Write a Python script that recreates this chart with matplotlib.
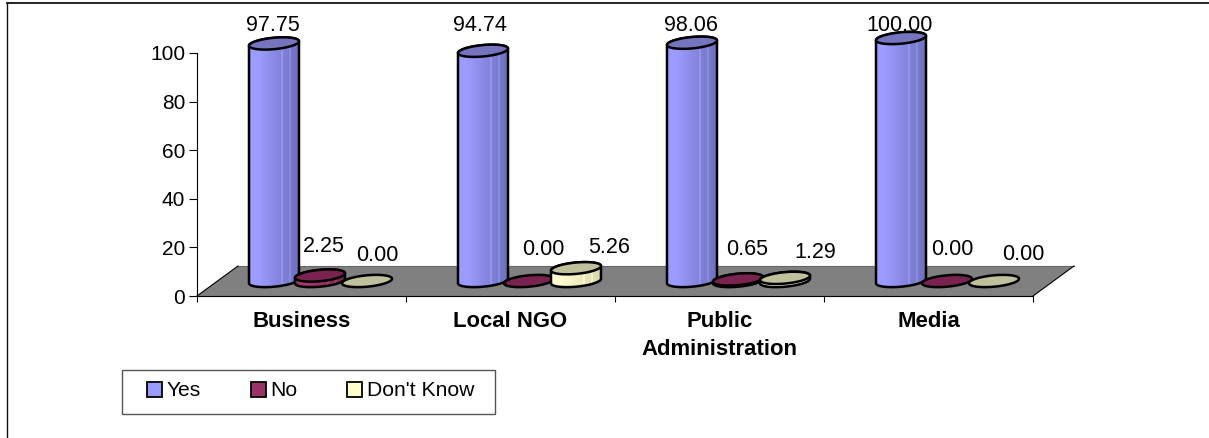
import matplotlib
matplotlib.use("Agg")
import matplotlib.pyplot as plt
import numpy as np
from matplotlib.colors import to_rgb
from matplotlib.lines import Line2D
from matplotlib.patches import Patch, Polygon, Rectangle

plt.rcParams["font.family"] = ["Liberation Sans", "DejaVu Sans"]

categories = ["Business", "Local NGO", "Public\nAdministration", "Media"]
series_names = ["Yes", "No", "Don't Know"]
yes_values = [97.75, 94.74, 98.06, 100.00]
no_values = [2.25, 0.00, 0.65, 0.00]
dont_know_values = [0.00, 5.26, 1.29, 0.00]
y_ticks = [0, 20, 40, 60, 80, 100]

# where each value label sits: x shift in pixels from its cylinder, y on the value axis
label_shift = [[-1, -3, -1, -1], [4, 14, 9, 5], [10, 33, 30, 29]]
label_y = [[111.5, 111.5, 111.5, 111.5], [20.2, 19.0, 19.3, 19.3], [16.5, 19.8, 18.1, 16.9]]

W, H = 1209, 438
AX_LEFT, AX_RIGHT, AX_TOP, AX_BOTTOM = 197, 1033, 53, 296
PX_X = 4 / (AX_RIGHT - AX_LEFT)
PX_Y = 100 / (AX_BOTTOM - AX_TOP)

DEPTH_X, DEPTH_Y = 41, 30   # floor depth
BASE_Y = 15                 # cylinders stand mid floor
RADIUS_X, RADIUS_Y, TILT = 25, 5.7, 0.09
BAR_OFFSET = [77, 123, 170]
EDGE_LW = 1.8

side_shades = [("#9c9cff", "#7070c0"), ("#a83a70", "#7c2850"), ("#ffffd0", "#d8d8ac")]
top_colors = ["#7474bf", "#7a2350", "#c0c09c"]
legend_colors = ["#9999ff", "#993366", "#ffffcc"]


def ellipse_points(cx, cy, start=0.0, stop=2 * np.pi, n=80):
    # tilted cap outline, given in pixels relative to the axes origin
    t = np.linspace(start, stop, n)
    dx = RADIUS_X * np.cos(t)
    dy = RADIUS_Y * np.sin(t) + TILT * dx
    return np.column_stack([(cx + dx) * PX_X, (cy + dy) * PX_Y])


def side_strip(series, n=25):
    # shading across the cylinder, dark to the right with two thin highlights
    light, dark = (np.array(to_rgb(c)) for c in side_shades[series])
    frac = np.clip(np.linspace(-0.2, 1, n), 0, 1)[:, None]
    strip = light + (dark - light) * frac
    strip[[16, 20]] = np.minimum(strip[[16, 20]] + 0.07, 1)
    return strip[None, :, :]


def draw_cylinder(ax, x_px, value, series, zorder):
    top_y = BASE_Y + value / PX_Y
    if value > 0:
        bottom = ellipse_points(x_px, BASE_Y, np.pi, 2 * np.pi)
        top = ellipse_points(x_px, top_y, 0, np.pi)
        body = Polygon(np.vstack([bottom, top]), closed=True, fc="none", ec="black", lw=EDGE_LW,
                       zorder=zorder + 0.2, clip_on=False)
        ax.add_patch(body)
        strip = side_strip(series)
        edges = np.linspace(x_px - RADIUS_X, x_px + RADIUS_X, strip.shape[1] + 1) * PX_X
        y_edges = [(BASE_Y - 2 * RADIUS_Y) * PX_Y, (top_y + 2 * RADIUS_Y) * PX_Y]
        mesh = ax.pcolormesh(edges, y_edges, strip, zorder=zorder, antialiased=False)
        mesh.set_clip_box(None)
        mesh.set_clip_path(body)
    cap = Polygon(ellipse_points(x_px, top_y), closed=True, fc=top_colors[series], ec="black", lw=EDGE_LW,
                  zorder=zorder + 0.3, clip_on=False)
    ax.add_patch(cap)


fig = plt.figure(figsize=(W / 100, H / 100), dpi=100)
ax = fig.add_axes([AX_LEFT / W, 1 - AX_BOTTOM / H, (AX_RIGHT - AX_LEFT) / W, (AX_BOTTOM - AX_TOP) / H])
ax.patch.set_alpha(0)

# sloping floor of the 3D plot
dx, dy = DEPTH_X * PX_X, DEPTH_Y * PX_Y
ax.add_patch(Polygon([(0, 0), (4, 0), (4 + dx, dy), (dx, dy)], closed=True, fc="#808080", ec="none",
                     clip_on=False, zorder=1))
ax.add_line(Line2D([dx, 4 + dx], [dy, dy], color="#666666", lw=0.8, clip_on=False, zorder=1.5))
ax.add_line(Line2D([0, dx], [0, dy], color="black", lw=0.8, clip_on=False, zorder=1.6))
ax.add_line(Line2D([4, 4 + dx], [0, dy], color="black", lw=0.8, clip_on=False, zorder=1.6))

all_values = [yes_values, no_values, dont_know_values]
for s, values in enumerate(all_values):
    for i, value in enumerate(values):
        x_px = i / PX_X + BAR_OFFSET[s]
        draw_cylinder(ax, x_px, value, s, zorder=3 + s)
        ax.text((x_px + label_shift[s][i]) * PX_X, label_y[s][i], f"{value:.2f}", ha="center", va="center",
                fontsize=15.5, color="black", zorder=10, clip_on=False)

ax.set_xlim(0, 4)
ax.set_ylim(0, 100)
ax.spines["top"].set_visible(False)
ax.spines["right"].set_visible(False)
for side in ["left", "bottom"]:
    ax.spines[side].set_linewidth(0.8)
    ax.spines[side].set_zorder(2)
ax.set_yticks(y_ticks)
ax.tick_params(axis="y", length=5.5, width=0.8, labelsize=15, pad=3)
ax.set_xticks(range(5))
ax.set_xticklabels([])
ax.tick_params(axis="x", which="major", length=4, width=0.8)
ax.set_xticks(np.arange(len(categories)) + 0.5, labels=categories, minor=True)
ax.tick_params(axis="x", which="minor", length=0, labelsize=15.9, pad=10.5)
for lab in ax.get_xticklabels(minor=True):
    lab.set_fontweight("bold")
    lab.set_linespacing(1.45)

# legend box and entries
fig.add_artist(Rectangle((122 / W, 1 - 414 / H), 373 / W, 44 / H, transform=fig.transFigure, fc="white",
                         ec="#555555", lw=1.0))
handles = [Patch(fc=c, ec="black", lw=1.3) for c in legend_colors]
fig.legend(handles, series_names, ncols=3, loc="center left", bbox_to_anchor=(147 / W, 1 - 391 / H),
           borderaxespad=0, borderpad=0, fontsize=15.2, frameon=False,
           handlelength=0.72, handleheight=0.72, handletextpad=0.22, columnspacing=2.35)

# outer chart border
fig.add_artist(Line2D([6.5 / W, 6.5 / W], [0, 1 - 2.5 / H], color="#111111", lw=1.0))
fig.add_artist(Line2D([6.5 / W, 1], [1 - 2.5 / H, 1 - 2.5 / H], color="#111111", lw=1.3))

fig.savefig("out.png", dpi=100)
